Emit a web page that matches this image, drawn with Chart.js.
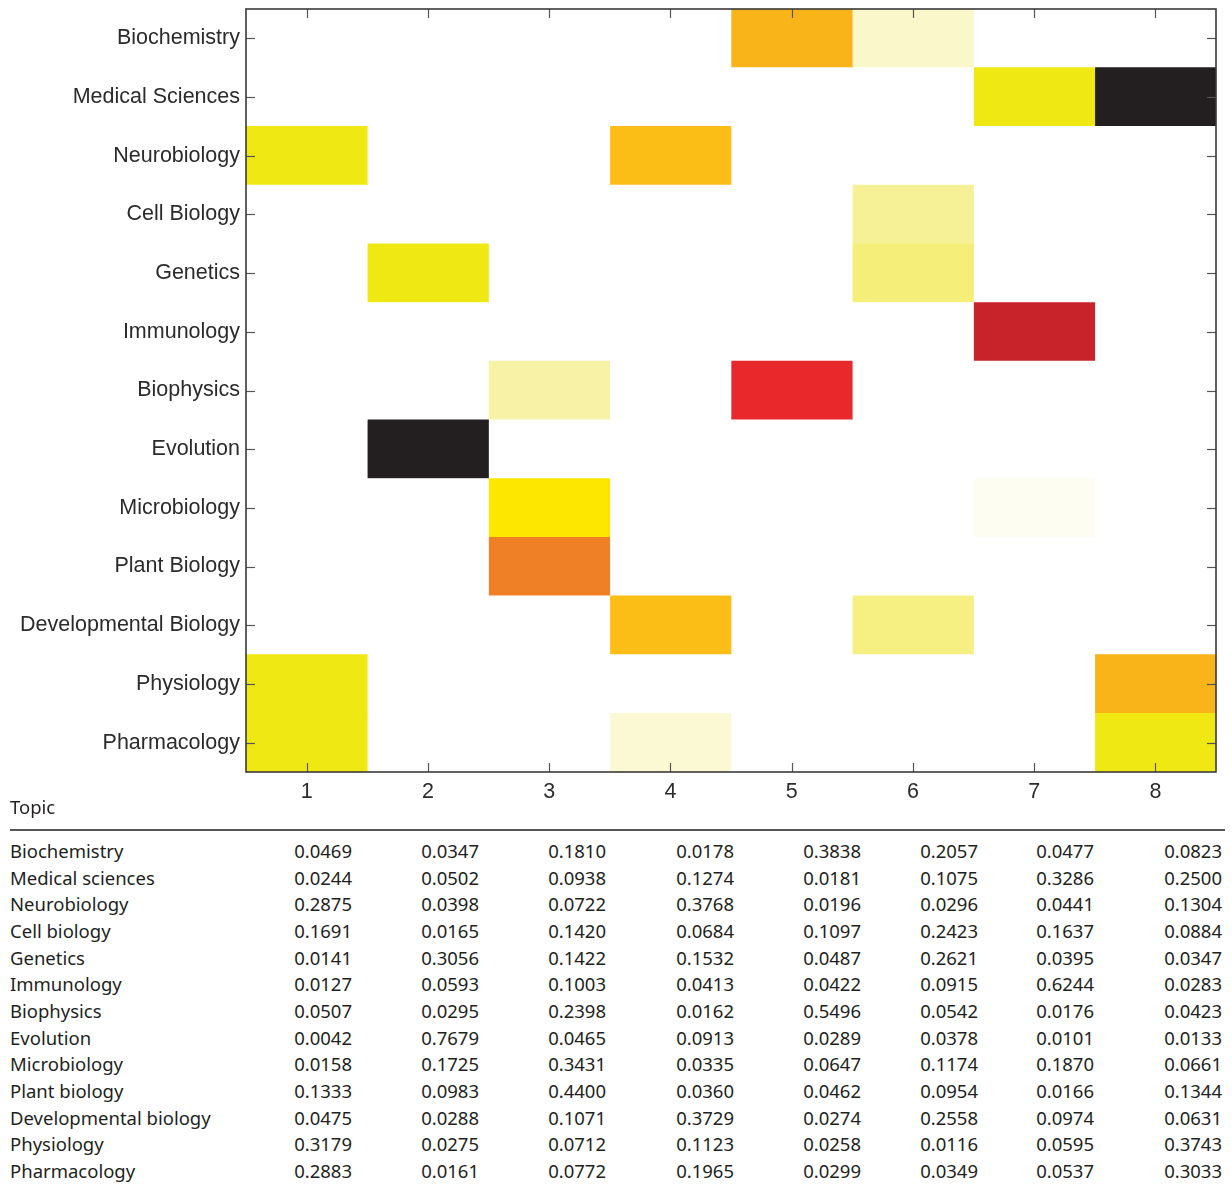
<!DOCTYPE html>
<html>
<head>
<meta charset="utf-8">
<title>Topic heatmap</title>
<script src="https://cdn.jsdelivr.net/npm/chart.js@4.4.1/dist/chart.umd.min.js"></script>
<style>
  body { margin: 0; background: #fff; }
  #page { position: relative; width: 1232px; height: 1186px; }
  #chartBox { position: absolute; left: 0; top: 0; width: 1232px; height: 800px; }
  #topicHead { position: absolute; left: 10px; top: 794px; font: 18.5px "Noto Sans", sans-serif; color: #231f20; }
  #rule { position: absolute; left: 10px; top: 829px; width: 1215px; height: 1.5px; background: #555; }
  #weights { position: absolute; left: 10px; top: 838px; border-collapse: collapse; table-layout: fixed;
             font: 18.5px "Noto Sans", sans-serif; color: #231f20; }
  #weights td { padding: 0; height: 26.67px; line-height: 26.67px; white-space: nowrap; text-align: right; }
  #weights td:first-child { text-align: left; }
</style>
</head>
<body>
<div id="page">
  <div id="chartBox"><canvas id="heat"></canvas></div>
  <div id="topicHead">Topic</div>
  <div id="rule"></div>
  <table id="weights"><colgroup></colgroup><tbody></tbody></table>
</div>
<script>
// heatmap rows (top to bottom) and columns
const topics = ['Biochemistry', 'Medical Sciences', 'Neurobiology', 'Cell Biology', 'Genetics', 'Immunology',
  'Biophysics', 'Evolution', 'Microbiology', 'Plant Biology', 'Developmental Biology', 'Physiology', 'Pharmacology'];
const xTicks = [1, 2, 3, 4, 5, 6, 7, 8];

// colour level of each cell, one array per column (0 = white, 1 = black)
const heat1 = [0, 0, 0.4, 0, 0, 0, 0, 0, 0, 0, 0, 0.4, 0.4];
const heat2 = [0, 0, 0, 0, 0.4, 0, 0, 1, 0, 0, 0, 0, 0];
const heat3 = [0, 0, 0, 0, 0, 0, 0.2, 0, 0.5, 0.72, 0, 0, 0];
const heat4 = [0, 0, 0.6, 0, 0, 0, 0, 0, 0, 0, 0.6, 0, 0.1];
const heat5 = [0.62, 0, 0, 0, 0, 0, 0.8, 0, 0, 0, 0, 0, 0];
const heat6 = [0.12, 0, 0, 0.22, 0.26, 0, 0, 0, 0, 0, 0.25, 0, 0];
const heat7 = [0, 0.4, 0, 0, 0, 0.87, 0, 0, 0.03, 0, 0, 0, 0];
const heat8 = [0, 1, 0, 0, 0, 0, 0, 0, 0, 0, 0, 0.62, 0.4];
const heatCols = [heat1, heat2, heat3, heat4, heat5, heat6, heat7, heat8];

// table below the plot
const tableTopics = ['Biochemistry', 'Medical sciences', 'Neurobiology', 'Cell biology', 'Genetics', 'Immunology',
  'Biophysics', 'Evolution', 'Microbiology', 'Plant biology', 'Developmental biology', 'Physiology', 'Pharmacology'];
const topic1 = [0.0469, 0.0244, 0.2875, 0.1691, 0.0141, 0.0127, 0.0507, 0.0042, 0.0158, 0.1333, 0.0475, 0.3179, 0.2883];
const topic2 = [0.0347, 0.0502, 0.0398, 0.0165, 0.3056, 0.0593, 0.0295, 0.7679, 0.1725, 0.0983, 0.0288, 0.0275, 0.0161];
const topic3 = [0.1810, 0.0938, 0.0722, 0.1420, 0.1422, 0.1003, 0.2398, 0.0465, 0.3431, 0.4400, 0.1071, 0.0712, 0.0772];
const topic4 = [0.0178, 0.1274, 0.3768, 0.0684, 0.1532, 0.0413, 0.0162, 0.0913, 0.0335, 0.0360, 0.3729, 0.1123, 0.1965];
const topic5 = [0.3838, 0.0181, 0.0196, 0.1097, 0.0487, 0.0422, 0.5496, 0.0289, 0.0647, 0.0462, 0.0274, 0.0258, 0.0299];
const topic6 = [0.2057, 0.1075, 0.0296, 0.2423, 0.2621, 0.0915, 0.0542, 0.0378, 0.1174, 0.0954, 0.2558, 0.0116, 0.0349];
const topic7 = [0.0477, 0.3286, 0.0441, 0.1637, 0.0395, 0.6244, 0.0176, 0.0101, 0.1870, 0.0166, 0.0974, 0.0595, 0.0537];
const topic8 = [0.0823, 0.2500, 0.1304, 0.0884, 0.0347, 0.0283, 0.0423, 0.0133, 0.0661, 0.1344, 0.0631, 0.3743, 0.3033];
const topicCols = [topic1, topic2, topic3, topic4, topic5, topic6, topic7, topic8];

// reversed "hot" colormap
const stops = [
  [0, [255, 255, 255]], [0.2, [247, 242, 166]], [0.4, [240, 232, 18]], [0.5, [253, 230, 0]],
  [0.6, [251, 190, 22]], [0.72, [240, 128, 38]], [0.8, [232, 40, 42]], [0.87, [200, 34, 42]], [1, [35, 31, 32]]
];
function heatColor(v) {
  for (let i = 1; i < stops.length; i++) {
    if (v <= stops[i][0]) {
      const [a, ca] = stops[i - 1], [b, cb] = stops[i];
      const t = (v - a) / (b - a);
      const c = ca.map((k, j) => Math.round(k + (cb[j] - k) * t));
      return `rgb(${c[0]},${c[1]},${c[2]})`;
    }
  }
  return 'rgb(35,31,32)';
}

// frame with inward ticks, like the original figure
const framePlugin = {
  id: 'frame',
  afterDatasetsDraw(chart) {
    const { ctx, chartArea: a, scales: { x, y } } = chart;
    const line = (x1, y1, x2, y2) => { ctx.beginPath(); ctx.moveTo(x1, y1); ctx.lineTo(x2, y2); ctx.stroke(); };
    ctx.save();
    ctx.strokeStyle = '#555';
    ctx.lineWidth = 1.2;
    xTicks.forEach(v => {
      const px = Math.round(x.getPixelForValue(v)) + 0.5;
      line(px, a.top, px, a.top + 9);
      line(px, a.bottom, px, a.bottom - 9);
    });
    topics.forEach((t, i) => {
      const py = Math.round(y.getPixelForValue(i)) + 0.5;
      line(a.left, py, a.left + 9, py);
      line(a.right, py, a.right - 9, py);
    });
    ctx.strokeStyle = '#3a3a3a';
    ctx.lineWidth = 1.6;
    ctx.strokeRect(a.left, a.top, a.right - a.left, a.bottom - a.top);
    ctx.restore();
  }
};

const datasets = heatCols.map((col, c) => ({
  label: 'Topic ' + xTicks[c],
  data: topics.map(() => [xTicks[c] - 0.5, xTicks[c] + 0.5]),
  backgroundColor: col.map(heatColor),
  borderWidth: 0,
  grouped: false,
  barPercentage: 1,
  categoryPercentage: 1
}));

const axisFont = { family: '"Liberation Sans", Arial, sans-serif', size: 21.5 };

new Chart(document.getElementById('heat'), {
  type: 'bar',
  data: { labels: topics, datasets: datasets },
  options: {
    indexAxis: 'y',
    responsive: true,
    maintainAspectRatio: false,
    animation: false,
    layout: { padding: { top: 9, right: 16, left: 0, bottom: 0 } },
    plugins: { legend: { display: false }, tooltip: { enabled: false } },
    scales: {
      x: {
        type: 'linear',
        min: 0.5,
        max: 8.5,
        afterBuildTicks: s => { s.ticks = xTicks.map(v => ({ value: v })); },
        afterFit: s => { s.height = 28; s.paddingLeft = 0; s.paddingRight = 0; },
        grid: { display: false, drawTicks: false },
        border: { display: false },
        ticks: { font: axisFont, color: '#2b2b2b', padding: 7, maxRotation: 0 }
      },
      y: {
        type: 'category',
        afterFit: s => { s.width = 246; s.paddingTop = 0; s.paddingBottom = 0; },
        grid: { display: false, drawTicks: false },
        border: { display: false },
        ticks: { font: axisFont, color: '#2b2b2b', padding: 6 }
      }
    }
  },
  plugins: [framePlugin]
});

// build the weights table
const colWidths = [280, 62, 127, 127, 128, 127, 117, 116, 128];
const colgroup = document.querySelector('#weights colgroup');
colWidths.forEach(w => {
  const col = document.createElement('col');
  col.style.width = w + 'px';
  colgroup.appendChild(col);
});
document.getElementById('weights').style.width = colWidths.reduce((s, w) => s + w, 0) + 'px';
const tbody = document.querySelector('#weights tbody');
tableTopics.forEach((name, r) => {
  const tr = document.createElement('tr');
  const th = document.createElement('td');
  th.textContent = name;
  tr.appendChild(th);
  topicCols.forEach(col => {
    const td = document.createElement('td');
    td.textContent = col[r].toFixed(4);
    tr.appendChild(td);
  });
  tbody.appendChild(tr);
});
</script>
</body>
</html>
